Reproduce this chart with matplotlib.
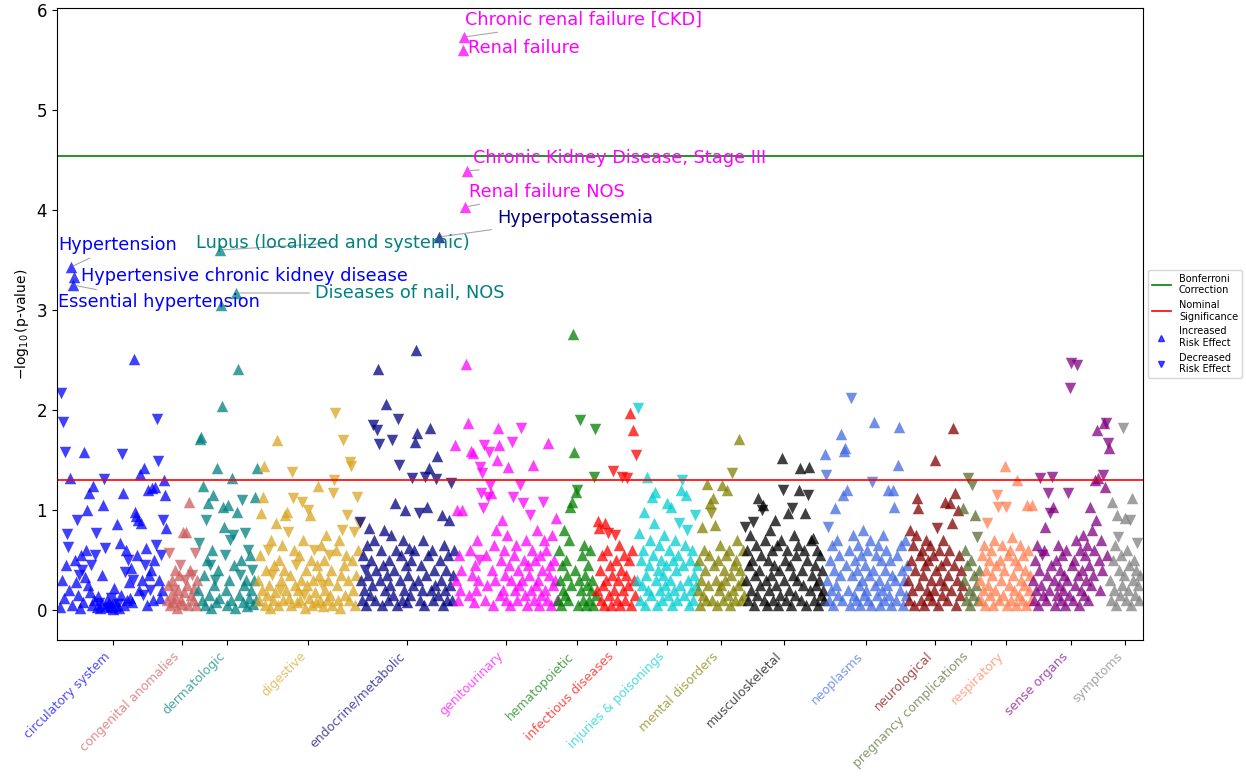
import numpy as np
import matplotlib
matplotlib.use("Agg")
import matplotlib.pyplot as plt
from matplotlib.lines import Line2D

categories = ['circulatory system', 'congenital anomalies', 'dermatologic', 'digestive',
              'endocrine/metabolic', 'genitourinary', 'hematopoietic', 'infectious diseases',
              'injuries & poisonings', 'mental disorders', 'musculoskeletal', 'neoplasms',
              'neurological', 'pregnancy complications', 'respiratory', 'sense organs', 'symptoms']
cat_colors = ['blue', 'indianred', 'teal', 'goldenrod', 'navy', 'magenta', 'green', 'red',
              'darkturquoise', 'olive', 'black', 'royalblue', 'maroon', 'darkolivegreen',
              'coral', 'purple', 'gray']

# signed -log10(p) per phecode, in plot order
# positive = increased risk effect, negative = decreased risk effect
circulatory = [.03, -2.17, .3, -1.88, .12, -1.58, .45, -.76, -.63, .2,
               1.32, 3.43, .05, 3.25, 3.33, .5, .28, -.9, .15, -.35,
               .02, .55, -.4, .08, 1.58, .33, .6, 1.0, .25, 1.17,
               .18, -.45, .05, 1.24, .1, -.55, -.77, .03, .14, -.07,
               .02, .06, .35, 1.05, -1.31, -.62, .04, .1, -.02, .07,
               .03, -.12, .05, .01, .22, .09, .04, .86, -.06, .02,
               .67, .15, -1.56, 1.17, .05, -.38, .6, .1, -.5, .28,
               .12, .42, .08, -.3, 2.51, .98, .94, .55, .9, .2,
               1.36, .87, .3, -.15, 1.42, -.45, .62, .05, 1.2, .35,
               -.2, .4, 1.22, .1, .5, 1.23, -.65, -1.91, -1.49, .3,
               .12, -.55, .2, -.9, 1.3, 1.15, .82]
congenital = [.1, .25, -.57, .05, .15, .3, .08, -.2, .4, .12, .02, .2, .35, -.45, .1, .06,
              .78, .18, -.3, .78, .25, .05, 1.08, .4, .15, -.35, .1, .22, -.57, .05, .3]
dermatologic = [.2, -.67, 1.71, 1.73, .1, 1.24, .35, .05, -.9, .5,
                1.07, .15, -.45, .02, .6, 1.15, .25, -.3, .08, 1.42,
                .4, .12, 3.6, 3.05, 2.04, 1.03, .83, -.55, .2, .05,
                1.05, .3, -.7, .1, 1.32, -.75, .45, .02, 3.17, .98,
                2.41, .15, -.35, .5, -1.1, .08, .25, -.77, .3, .04,
                -.6, .12, .55, .2, -.4, .06, .3, 1.13, .1, 1.42]
digestive = [.3, .1, .55, .97, .2, 1.13, 1.44, .05, .4, .15,
             -.6, .25, .02, .7, -.35, .1, .45, .18, .87, 1.7,
             .05, .5, -.2, .3, .65, .1, .4, .95, .2, .98,
             -.78, .12, .35, .05, -1.38, -1.12, .6, .25, -.45, .08,
             .2, .55, .1, .3, -1.08, .7, -.15, .02, .4, .25,
             -1.0, .12, .95, .5, .05, .3, -.6, .18, .08, .45,
             1.24, .35, .1, .65, -.25, .04, .5, .2, .75, .1,
             .3, -.55, .15, .4, .05, -1.17, -1.3, -1.97, .6, .25,
             .1, .7, .02, .35, -.8, -1.7, .45, .15, .55, -.95,
             .3, .1, -1.48, -1.44, .5, .2, -.78, .05, .35, -1.13, .6, -.87]
endocrine = [-.88, .3, .1, .55, .2, -.4, .05, .65, .35, .82,
             .15, .5, .25, -1.85, .7, .1, .4, -1.8, 2.41, -1.66,
             .3, .6, .05, .45, .8, .2, 2.06, .35, .1, .5,
             .25, .75, -1.7, .15, .4, 1.07, .6, .05, -1.91, -1.45,
             .3, .55, .1, .7, .2, 1.0, .45, .08, .35, .62,
             .15, .5, -1.32, .25, .6, 1.68, 2.6, 1.77, .3, -.97,
             .1, .45, .2, .7, .05, -1.33, .35, 1.03, .55, 1.42,
             1.82, .2, .6, .1, .4, .25, -1.31, 1.54, .15, 3.73,
             .5, .3, .95, .05, .65, .2, .4, .1, .55, .9,
             .25, -1.27, .1, .35, .6]
genitourinary = [1.65, .3, 1.0, .1, .55, .2, .4, 1.0, 5.6, 5.73,
                 4.03, 2.46, 4.39, 1.87, .15, .6, 1.59, .35, 1.57, .08,
                 .45, .2, .7, .3, -.5, -1.43, -1.17, -1.37, -1.02, -1.65,
                 .1, .55, .25, -1.13, -1.58, -1.25, 1.17, .4, .05, .65,
                 .3, .8, 1.5, 1.82, 1.65, .15, .5, .9, .2, .6,
                 .35, .1, .75, 1.43, .45, .05, .3, -1.68, -1.13, .55,
                 .2, .65, .1, .4, .25, -1.25, -1.82, .3, -1.07, .5,
                 .15, .7, .05, .45, .35, -.95, .2, .6, 1.45, .1,
                 .5, .25, .8, .3, .05, .55, .15, .4, -1.08, .7,
                 .2, .6, .1, 1.67, .35, .45, .05, .75, .25, .5, .3, .92, .1]
hematopoietic = [.1, .6, .3, .05, .45, .2, .8, .15, .5, .35,
                 .1, .7, 1.03, .25, 1.08, 2.76, 1.58, .4, 1.18, -1.2,
                 .05, .3, -1.9, .2, .55, .1, .65, .35, .05, .25,
                 .45, .1, .6, .2, .3, .05, -1.33, -1.81, .15]
infectious = [.2, .89, .82, .4, .1, .55, .25, .05, .87, .3,
              .6, -.77, .15, .45, .05, .35, -1.39, .2, -.75, .5,
              .1, .3, .65, .05, .4, -1.33, .2, .55, .1, .35,
              -1.32, .25, .5, 1.97, .05, .6, 1.8, .3, .15, -1.55]
injuries = [.3, -2.02, .77, .1, .5, .25, .6, .98, .05, .35,
            1.33, .2, .45, .7, .15, 1.13, .55, .87, 1.18, .3,
            .05, .4, .65, .2, .5, .1, .35, .75, .25, .45,
            1.07, .15, .6, .3, 1.03, .05, .5, .2, .7, .4,
            .1, .55, -.87, .25, 1.2, -1.3, .45, .15, .65, 1.15,
            -.8, .3, .05, .5, .2, .6, .1, .35, -.95, .25, .45]
mental = [.2, .5, .05, .3, .83, .15, .6, .4, .1, 1.26,
          .25, .55, 1.07, -.97, .1, 1.12, .45, .85, .3, .05,
          .5, .2, .65, .25, 1.25, .1, .4, .3, .55, 1.2,
          .15, .6, .05, .35, -1.37, .2, .45, .1, .5, .7,
          .25, 1.71, .4, .1, .3, .6, .15]
musculoskeletal = [-.83, .3, .6, .1, .45, .75, .2, .5, -.88, .05,
                   .35, .65, .15, 1.12, .4, .25, .55, -1.0, 1.05, .1,
                   .7, .3, .05, .5, .2, .8, .35, .6, .1, .45,
                   .9, .25, .65, .05, .4, .15, .7, 1.52, -1.2, .3,
                   .5, .1, .6, .97, .2, .45, .05, -1.02, .35, .75,
                   .15, .55, .3, .65, 1.2, 1.42, .1, .4, .25, .6,
                   .97, .05, .5, -1.15, 1.43, .2, .7, .35, .72, .1,
                   .45, .25, .6, .05, .3, .55, .15, .4, .2, .1]
neoplasms = [1.56, -1.35, .3, -.83, .1, .5, .2, .65, .05, .4,
             1.02, .25, .7, .15, .55, .35, 1.76, .1, 1.15, 1.59,
             1.62, .45, 1.2, .2, .6, .05, -2.12, .35, .75, .15,
             .5, .1, .4, .65, .25, .05, .55, .3, .8, .15,
             .45, .2, .6, .1, .35, .7, .05, -1.28, .4, 1.88,
             .25, .55, .15, .65, .3, .05, .5, .2, .75, .1,
             .4, .6, .25, 1.2, .15, .5, .05, .35, 1.2, 1.03,
             .3, .1, .55, 1.45, 1.83, .2, .65, .4, .05, .3, .7, .15, .45]
neurological = [.3, .1, .8, .5, .2, .65, .05, .4, .75, 1.12,
                1.02, .25, .55, .1, .6, .35, .05, .45, .7, .2,
                .5, .15, .65, .3, .1, .55, .2, 1.5, .4, -.82,
                .05, .6, .3, .45, .15, .7, .25, 1.08, .5, .1,
                .35, .6, 1.07, .2, .87, 1.82, .45, 1.17, .05, .3,
                1.0, .55, .15, .4, .25]
pregnancy = [1.02, .3, .6, .1, .45, -1.32, .2, .05, .5, -1.25, .15, .35, .95, .25, -.73, .1, .4]
respiratory = [.3, .1, .55, .2, .65, .05, .4, -.87, .25, .5,
               .15, .6, .35, .05, .7, .2, .45, -1.15, -1.03, .1,
               .5, .3, .65, .15, .4, 1.44, -1.03, .05, .55, .25,
               .6, .1, .73, .35, .2, .5, .05, 1.3, .45, .15,
               .65, .3, .1, .55, .25, .4, .05, 1.05, .6, .2,
               .35, .1, 1.05]
sense_organs = [.3, .1, .5, .2, .65, .05, .4, -1.32, .25, -.55,
                .15, .6, .83, .1, .35, -1.17, .2, -.97, .45, -1.33,
                1.03, .3, .05, .5, .15, .65, .25, .4, .1, .55,
                .2, .35, .05, .6, .3, -1.17, .15, -2.22, -2.47, .45,
                .1, .5, .25, .7, -2.45, .35, .05, .6, .2, .4,
                .75, .15, .55, .3, .65, .1, .45, 1.03, .25, .8,
                .35, .6, 1.3, .9, 1.8, 1.32, .5, .2, .7, .4,
                -1.35, 1.87, 1.23, -1.87, .55, -1.67, 1.62]
symptoms = [.3, .1, 1.08, .5, .2, .65, .05, .95, -.73, .4, .15, .55, .25, -1.82, .35, .92,
            .1, .6, .2, .45, -.9, .05, 1.12, .3, .5, .15, .4, -.67, .25, .1, .35]

cat_values = [circulatory, congenital, dermatologic, digestive, endocrine, genitourinary,
              hematopoietic, infectious, injuries, mental, musculoskeletal, neoplasms,
              neurological, pregnancy, respiratory, sense_organs, symptoms]

bonferroni = 4.54
nominal = 1.301

# labelled phenotypes: name, category index, value
annot_names = ['Chronic renal failure [CKD]', 'Renal failure', 'Chronic Kidney Disease, Stage III',
               'Renal failure NOS', 'Hyperpotassemia', 'Lupus (localized and systemic)',
               'Diseases of nail, NOS', 'Hypertension', 'Hypertensive chronic kidney disease',
               'Essential hypertension']
annot_cats = [5, 5, 5, 5, 4, 2, 2, 0, 0, 0]
annot_vals = [5.73, 5.6, 4.39, 4.03, 3.73, 3.6, 3.17, 3.43, 3.33, 3.25]
annot_offsets = [(0.7, 12.2), (3.6, 1.4), (4.3, 9.4), (2.9, 10.8), (41.8, 13.7),
                 (-17.3, 5), (57, 0), (-9.4, 15.8), (5, 0.7), (-10.8, -12.2)]

fig = plt.figure(figsize=(12.46, 7.78), dpi=100)
ax = fig.add_axes([0.0457, 0.1774, 0.8716, 0.8123])

start = 0
starts = []
ticks = []
for vals, col in zip(cat_values, cat_colors):
    v = np.array(vals)
    x = np.arange(start, start + len(v))
    up = v >= 0
    ax.scatter(x[up], v[up], marker='^', s=68, color=col, alpha=0.75, linewidths=0)
    ax.scatter(x[~up], -v[~up], marker='v', s=68, color=col, alpha=0.75, linewidths=0)
    starts.append(start)
    ticks.append(x.mean())
    start += len(v)

ax.axhline(bonferroni, color='g', lw=1.2)
ax.axhline(nominal, color='r', lw=1.2)

for name, c, val, off in zip(annot_names, annot_cats, annot_vals, annot_offsets):
    xi = starts[c] + cat_values[c].index(val)
    ax.annotate(name, xy=(xi, val), xytext=off, textcoords='offset points',
                ha='left', va='center', fontsize=12.8, color=cat_colors[c],
                arrowprops=dict(arrowstyle='-', color='gray', lw=0.8, alpha=0.7))

ax.set_xlim(-3, start + 2)
ax.set_ylim(-0.3, 6.02)
ax.set_yticks(range(7))
ax.tick_params(axis='y', labelsize=12)
ax.set_ylabel(r'$-\log_{10}$(p-value)', fontsize=10)

ax.set_xticks(ticks)
ax.set_xticklabels(categories, rotation=45, ha='right', fontsize=9)
for lbl, col in zip(ax.get_xticklabels(), cat_colors):
    lbl.set_color(col)
    lbl.set_alpha(0.7)

handles = [Line2D([], [], color='g', lw=1.2),
           Line2D([], [], color='r', lw=1.2),
           Line2D([], [], marker='^', ls='none', color='blue', alpha=0.7, ms=5),
           Line2D([], [], marker='v', ls='none', color='blue', alpha=0.7, ms=5)]
ax.legend(handles, ['Bonferroni\nCorrection', 'Nominal\nSignificance',
                    'Increased\nRisk Effect', 'Decreased\nRisk Effect'],
          loc='center left', bbox_to_anchor=(1.0, 0.5), fontsize=7)

fig.savefig('out.png', dpi=100)
